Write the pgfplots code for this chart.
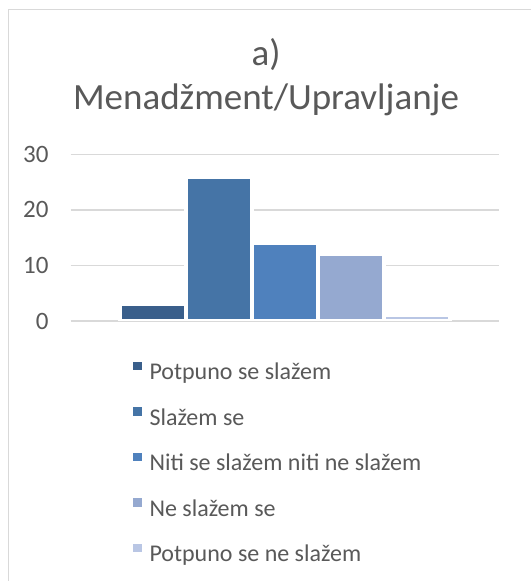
\documentclass[border=0pt]{standalone}
\usepackage{fontspec}
\setmainfont{Carlito}
\usepackage{pgfplots}
\pgfplotsset{compat=1.18}
\definecolor{txt}{HTML}{595959}
\definecolor{grd}{HTML}{D9D9D9}
\definecolor{cA}{HTML}{3A5F8B}
\definecolor{cB}{HTML}{4574A6}
\definecolor{cC}{HTML}{4F81BD}
\definecolor{cD}{HTML}{95A9D0}
\definecolor{cE}{HTML}{B9C6E4}
\begin{document}
\begin{tikzpicture}
\useasboundingbox (0,0) rectangle (531pt,581pt);
\fill[white] (0,0) rectangle (531pt,581pt);
\draw[grd, line width=1pt] (8pt,0) -- (8pt,571pt) -- (531pt,571pt);
\node[align=center, text=txt, font=\fontsize{37}{44}\selectfont, inner sep=0pt, anchor=north] at (266pt,543pt) {a)\\Menadžment/Upravljanje};
\begin{axis}[
  at={(70.7pt,260pt)}, anchor=south west,
  scale only axis, width=428.3pt, height=166.7pt,
  xmin=-1, xmax=1, ymin=0, ymax=30,
  xtick=\empty, ytick={0,10,20,30},
  axis line style={draw=none},
  major tick length=0pt,
  ymajorgrids, major grid style={grd, line width=1.4pt},
  /pgf/number format/assume math mode=true,
  yticklabel style={font=\fontsize{25}{28}\selectfont, text=txt, anchor=east, inner sep=0pt, xshift=-22pt},
  ybar=0pt, bar width=66pt,
  every axis plot/.append style={draw=white, line width=4pt},
  legend image code/.code={\path[#1, draw=none] (0pt,3.5pt) rectangle (8.5pt,12pt);},
  legend style={at={(0.1455,-0.245)}, anchor=north west, draw=none, fill=none,
    inner sep=0pt, outer sep=0pt, row sep=22.5pt, column sep=8pt,
    font=\fontsize{24}{28}\selectfont, text=txt,
    nodes={inner sep=0pt, text height=17pt, text depth=5pt}},
  legend cell align=left,
]
\addplot[fill=cA] coordinates {(0,3)};
\addplot[fill=cB] coordinates {(0,26)};
\addplot[fill=cC] coordinates {(0,14)};
\addplot[fill=cD] coordinates {(0,12)};
\addplot[fill=cE] coordinates {(0,1)};
\legend{Potpuno se slažem, Slažem se, Niti se slažem niti ne slažem, Ne slažem se, Potpuno se ne slažem}
\end{axis}
\end{tikzpicture}
\end{document}
